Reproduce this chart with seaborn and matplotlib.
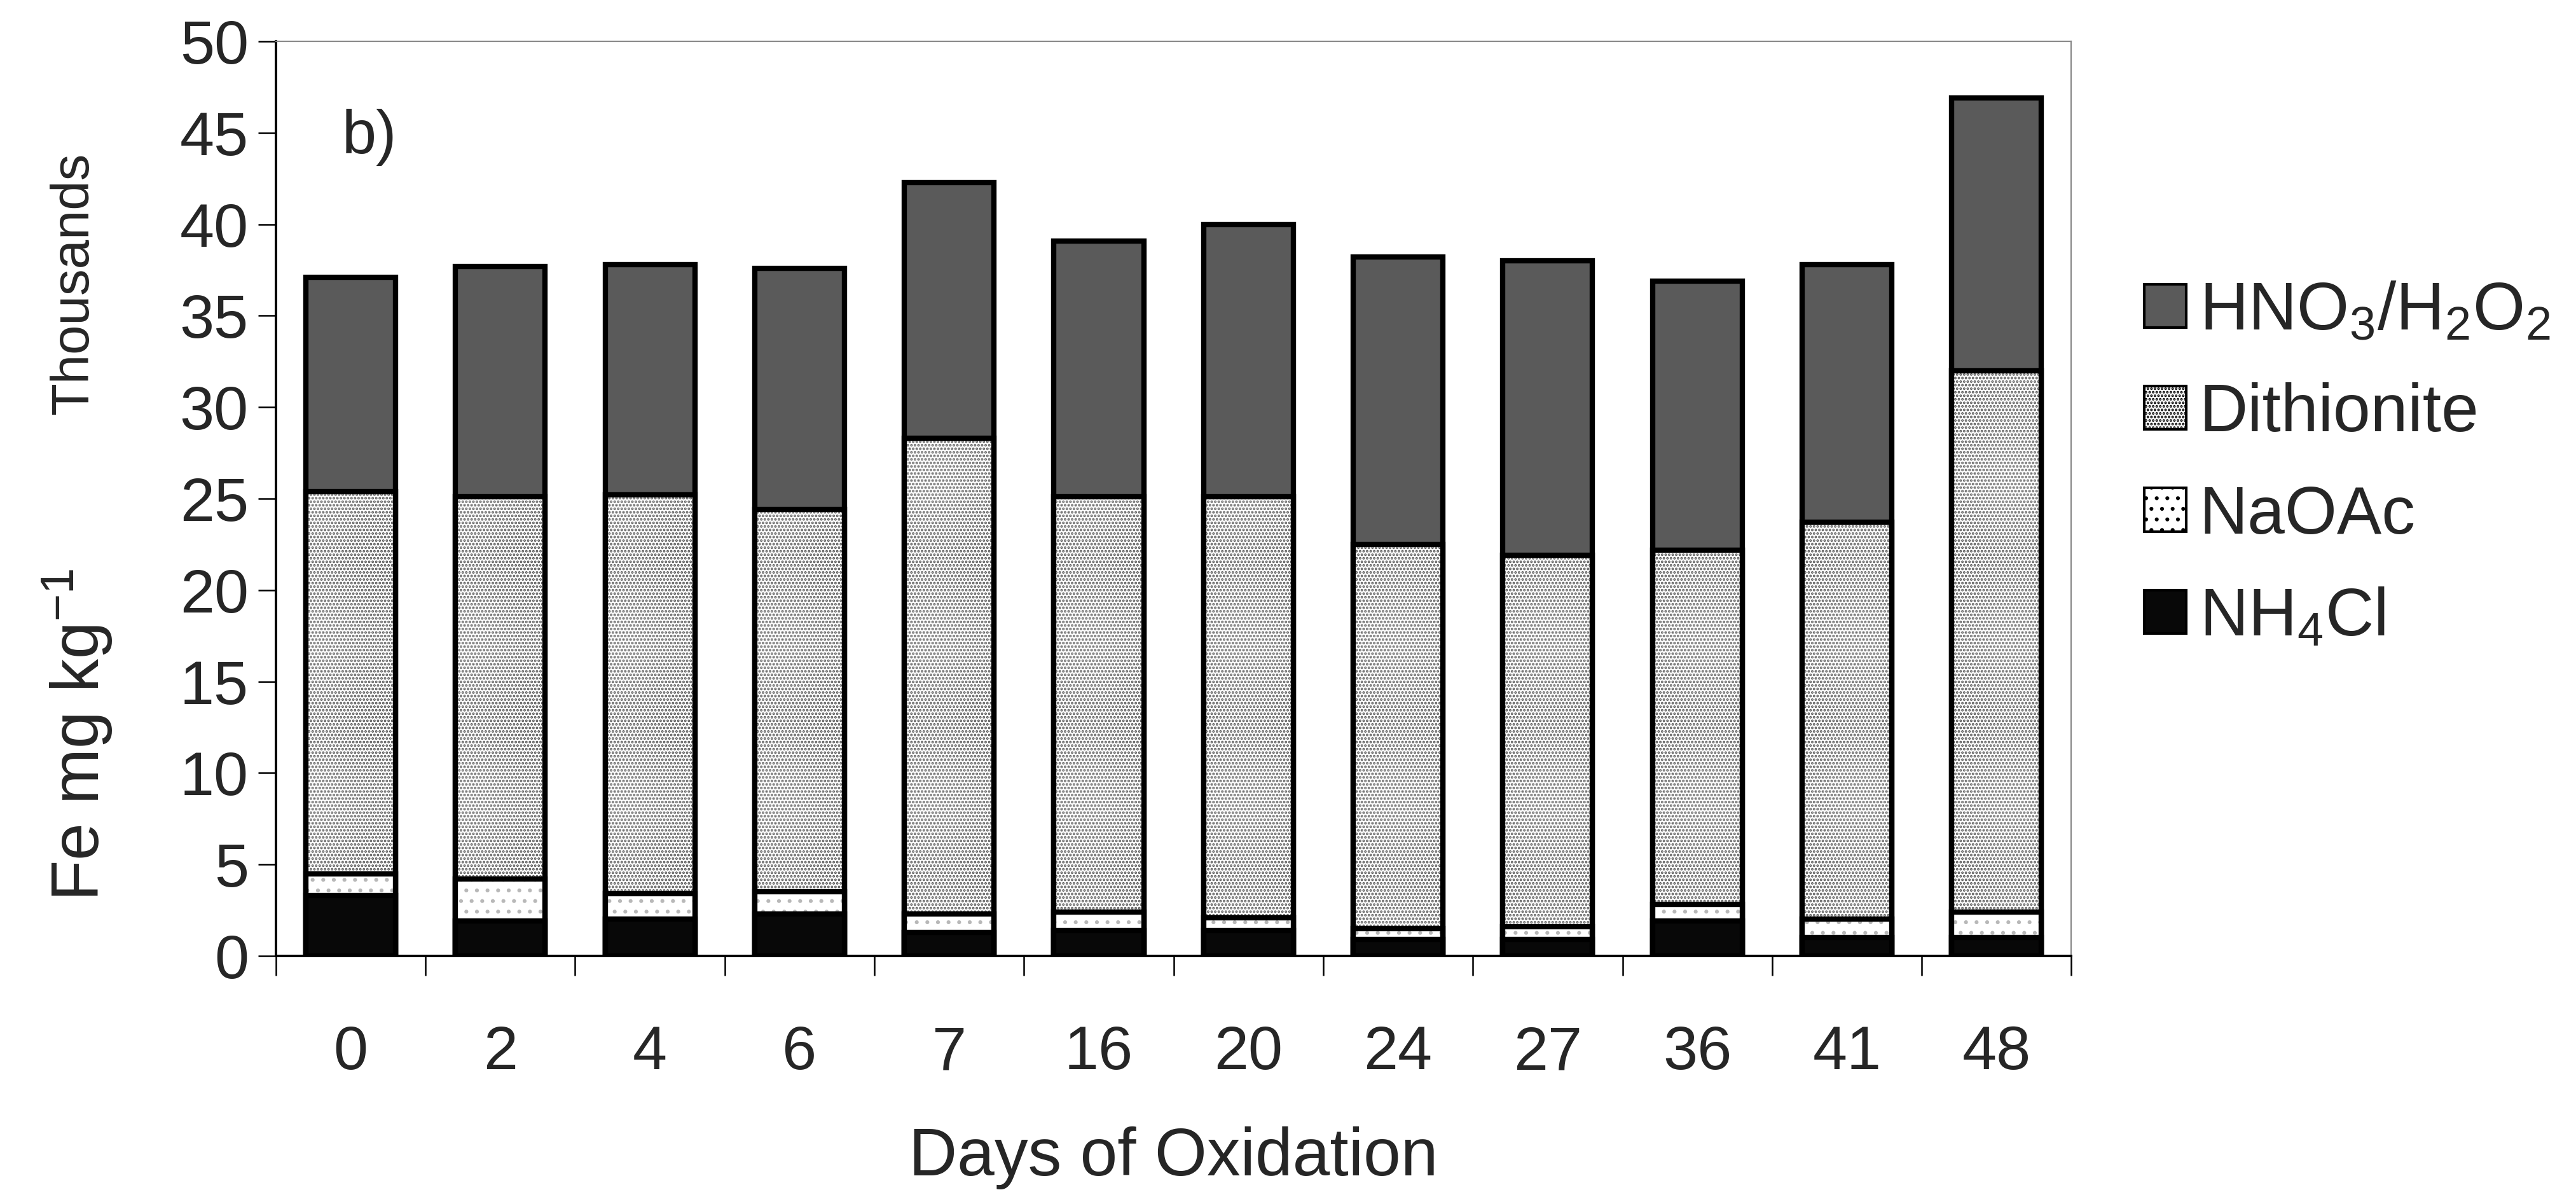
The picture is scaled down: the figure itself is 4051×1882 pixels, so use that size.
import matplotlib
matplotlib.use("Agg")
import matplotlib.pyplot as plt
from matplotlib import font_manager
from matplotlib.patches import Patch
import seaborn as sns

# Sequential Fe extraction by oxidation time (Fe, thousands of mg kg-1)
days = ["0", "2", "4", "6", "7", "16", "20", "24", "27", "36", "41", "48"]
nh4cl = [3.3, 1.9, 2.0, 2.3, 1.3, 1.4, 1.4, 0.9, 0.9, 1.9, 1.0, 1.0]
naoac = [1.2, 2.3, 1.4, 1.2, 1.0, 1.0, 0.7, 0.6, 0.7, 0.9, 1.0, 1.4]
dithionite = [20.9, 20.9, 21.8, 20.9, 26.0, 22.7, 23.0, 21.0, 20.3, 19.4, 21.7, 29.6]
hno3_h2o2 = [11.7, 12.6, 12.6, 13.2, 14.0, 14.0, 14.9, 15.7, 16.1, 14.7, 14.1, 14.9]

series_labels = [r"HNO$_3$/H$_2$O$_2$", "Dithionite", "NaOAc", r"NH$_4$Cl"]
y_ticks = [0, 5, 10, 15, 20, 25, 30, 35, 40, 45, 50]

sns.set_theme(style="white")
plt.rcParams["font.family"] = ["Liberation Sans", "DejaVu Sans"]
plt.rcParams["mathtext.default"] = "regular"
plt.rcParams["hatch.linewidth"] = 2.0

fig = plt.figure(figsize=(40.51, 18.82), dpi=100)
ax = fig.add_axes([0.1071, 0.2014, 0.697, 0.764])

# cumulative tops so each layer covers the one above it
cum_nh4 = nh4cl
cum_naoac = [a + b for a, b in zip(cum_nh4, naoac)]
cum_dith = [a + b for a, b in zip(cum_naoac, dithionite)]
cum_total = [a + b for a, b in zip(cum_dith, hno3_h2o2)]

styles = [
    # (values, face, hatch, hatch colour)
    (cum_total, "#5a5a5a", None, "#5a5a5a"),
    (cum_dith, "white", "...", "#5e5e5e"),
    (cum_naoac, "white", ".", "#b8b8b8"),
    (cum_nh4, "#080808", None, "#080808"),
]
bar_w = 0.60
for vals, face, hatch, hcol in styles:
    # fill + hatch pass
    sns.barplot(x=days, y=vals, ax=ax, color=face, width=bar_w,
                errorbar=None, saturation=1, edgecolor=hcol,
                linewidth=0, hatch=hatch)
    # outline pass
    n0 = len(ax.patches)
    sns.barplot(x=days, y=vals, ax=ax, color=face, width=bar_w,
                errorbar=None, saturation=1)
    for p in ax.patches[n0:]:
        p.set_facecolor("none")
        p.set_edgecolor("black")
        p.set_linewidth(6)

ax.set_xlim(-0.5, 11.5)
ax.set_ylim(0, 50)
ax.set_yticks(y_ticks)
ax.set_yticklabels([str(t) for t in y_ticks], fontsize=70)

# tick marks between categories, labels under each bar
ax.set_xticks([i - 0.5 for i in range(len(days) + 1)])
ax.set_xticklabels([])
ax.set_xticks(range(len(days)), minor=True)
ax.set_xticklabels(days, minor=True, fontsize=70)
ax.tick_params(axis="x", which="major", direction="out", length=22,
               width=1.8, color="black", bottom=True)
ax.tick_params(axis="x", which="minor", length=0, pad=78, bottom=True)
ax.tick_params(axis="y", direction="out", length=20, width=1.8,
               color="black", pad=11, left=True)
ax.set_xlabel("Days of Oxidation", fontsize=76, labelpad=50)
ax.set_ylabel("")

for side in ("left", "bottom"):
    ax.spines[side].set_color("black")
    ax.spines[side].set_linewidth(2.8)
for side in ("top", "right"):
    ax.spines[side].set_color("#8a8a8a")
    ax.spines[side].set_linewidth(1.6)

ax.text(0.052, 0.895, "b)", transform=ax.transAxes, fontsize=70,
        ha="center", va="center")

# display-unit label in a condensed face when one is available
installed = {f.name for f in font_manager.fontManager.ttflist}
if "Liberation Sans Narrow" in installed:
    unit_family, unit_size = ["Liberation Sans Narrow", "DejaVu Sans"], 70
else:
    unit_family, unit_size = ["Liberation Sans", "DejaVu Sans"], 60
fig.text(0.0287, 0.763, "Thousands", rotation=90, fontsize=unit_size,
         family=unit_family, ha="center", va="center")
fig.text(0.030, 0.386, r"Fe mg kg$^{-1}$", rotation=90, fontsize=76,
         ha="center", va="center")

handles = []
for (vals, face, hatch, hcol), lab in zip(styles, series_labels):
    handles.append(Patch(facecolor=face, edgecolor="black", linewidth=3,
                         hatch=hatch, label=lab))
fig.legend(handles=handles, loc="upper left", bbox_to_anchor=(0.822, 0.788),
           frameon=False, fontsize=76, handlelength=0.62, handleheight=0.62,
           handletextpad=0.2, labelspacing=0.58, borderaxespad=0)

fig.savefig("out.png", dpi=100, facecolor="white")
